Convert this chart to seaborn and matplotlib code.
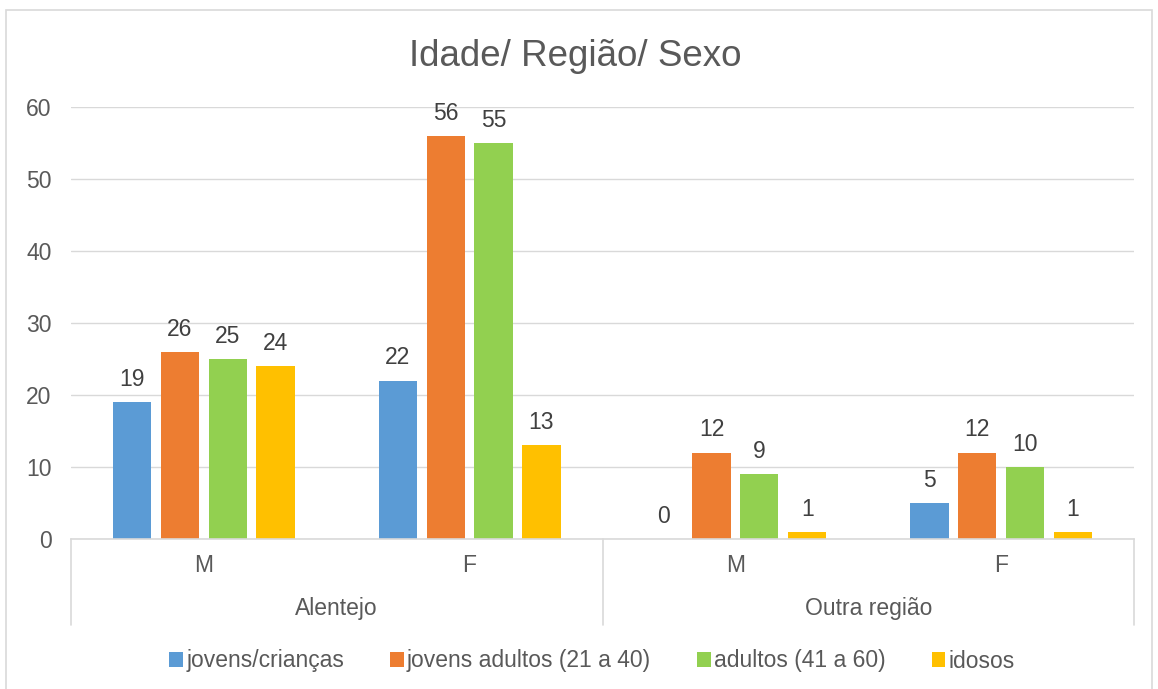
import pandas as pd
import seaborn as sns
import matplotlib.pyplot as plt
from matplotlib.patches import Rectangle

# dados do gráfico
regioes = ["Alentejo", "Alentejo", "Outra região", "Outra região"]
sexos = ["M", "F", "M", "F"]
faixas = ["jovens/crianças", "jovens adultos (21 a 40)", "adultos (41 a 60)", "idosos"]
jovens = [19, 22, 0, 5]
jovens_adultos = [26, 56, 12, 12]
adultos = [25, 55, 9, 10]
idosos = [24, 13, 1, 1]
cores = ["#5B9BD5", "#ED7D31", "#92D050", "#FFC000"]

grupos = [f"{r} {s}" for r, s in zip(regioes, sexos)]
rows = []
for faixa, valores in zip(faixas, [jovens, jovens_adultos, adultos, idosos]):
    for g, v in zip(grupos, valores):
        rows.append({"grupo": g, "faixa": faixa, "valor": v})
df = pd.DataFrame(rows)

sns.set_style("white")
plt.rcParams["font.family"] = ["Liberation Sans", "DejaVu Sans"]
TXT = "#595959"
FS = 16.5

fig = plt.figure(figsize=(11.58, 6.89), dpi=100)
ax = fig.add_axes([71 / 1158, 1 - 539 / 689, (1134 - 71) / 1158, (539 - 107) / 689])

sns.barplot(
    data=df, x="grupo", y="valor", hue="faixa", order=grupos, hue_order=faixas,
    palette=cores, width=0.72, gap=0.2, saturation=1, ax=ax, errorbar=None,
    linewidth=0,
)

for c in ax.containers:
    ax.bar_label(c, fmt="%g", padding=8, fontsize=FS, color="#404040")

ax.set_ylim(0, 60)
ax.set_xlim(-0.5, 3.5)
ax.set_yticks(range(0, 61, 10))
ax.yaxis.grid(True, color="#D9D9D9", linewidth=1)
ax.set_axisbelow(True)
for s in ["top", "right", "left"]:
    ax.spines[s].set_visible(False)
ax.spines["bottom"].set_color("#D9D9D9")
ax.spines["bottom"].set_linewidth(1.2)
ax.tick_params(axis="y", length=0, pad=14, labelsize=FS, labelcolor=TXT)
ax.tick_params(axis="x", length=0, pad=11, labelsize=FS, labelcolor=TXT)
ax.set_xticks(range(4))
ax.set_xticklabels(sexos)
ax.set_xlabel("")
ax.set_ylabel("")

# eixo de categorias em dois níveis
trans = ax.get_xaxis_transform()
depth = -(625 - 539) / (539 - 107)
for xv in [-0.5, 1.5, 3.5]:
    ax.plot([xv, xv], [0, depth], transform=trans, color="#D9D9D9",
            linewidth=1.2, clip_on=False)
for xc, nome in [(0.5, "Alentejo"), (2.5, "Outra região")]:
    ax.text(xc, -(609 - 539) / (539 - 107), nome, transform=trans, ha="center",
            va="center", fontsize=FS, color=TXT)

ax.get_legend().remove()
handles, labels = ax.get_legend_handles_labels()
fig.legend(handles, labels, loc="center", bbox_to_anchor=(592 / 1158, 1 - 661 / 689),
           ncol=4, frameon=False, fontsize=FS, labelcolor=TXT, handlelength=0.6,
           handleheight=0.6, handletextpad=0.15, columnspacing=2.0)

fig.text(575 / 1158, 1 - 56 / 689, "Idade/ Região/ Sexo", ha="center", va="center",
         fontsize=26.5, color=TXT)

# moldura do gráfico
fig.patches.append(Rectangle((6 / 1158, -0.05), (1152 - 6) / 1158, 1 - 10 / 689 + 0.05,
                             transform=fig.transFigure, fill=False,
                             edgecolor="#D9D9D9", linewidth=1.2))

fig.savefig("out.png", dpi=100)
